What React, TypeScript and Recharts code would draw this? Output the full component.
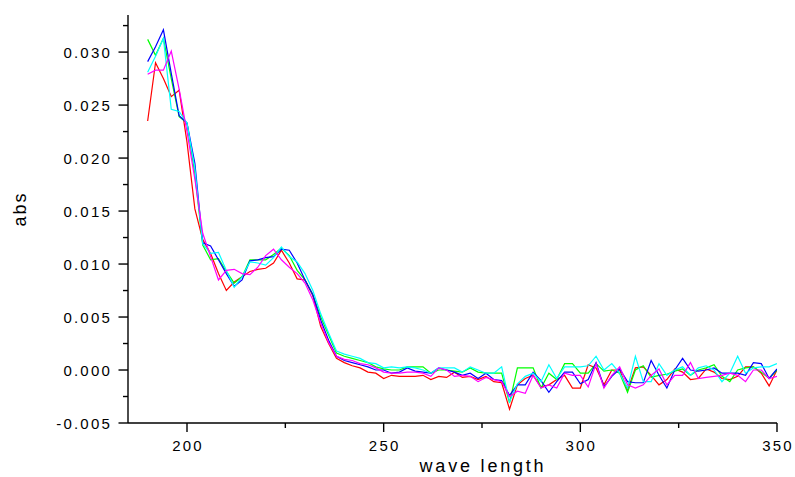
import React from 'react';
import { LineChart, Line, XAxis, YAxis, Label } from 'recharts';

const wavelengths = [
  190, 192, 194, 196, 198, 200, 202, 204, 206, 208,
  210, 212, 214, 216, 218, 220, 222, 224, 226, 228,
  230, 232, 234, 236, 238, 240, 242, 244, 246, 248,
  250, 252, 254, 256, 258, 260, 262, 264, 266, 268,
  270, 272, 274, 276, 278, 280, 282, 284, 286, 288,
  290, 292, 294, 296, 298, 300, 302, 304, 306, 308,
  310, 312, 314, 316, 318, 320, 322, 324, 326, 328,
  330, 332, 334, 336, 338, 340, 342, 344, 346, 348,
  350,
];

const redSeries = [
  0.0235, 0.0290, 0.0275, 0.0258, 0.0264, 0.0215, 0.0152, 0.0123, 0.0110, 0.0091,
  0.0075, 0.0083, 0.0088, 0.0093, 0.0095, 0.0096, 0.0101, 0.0113, 0.0101, 0.0086,
  0.0085, 0.0070, 0.0041, 0.0025, 0.0011, 0.0007, 0.0004, 0.0002, -0.0002, -0.0003,
  -0.0008, -0.0005, -0.0006, -0.0006, -0.0006, -0.0005, -0.0009, -0.0006, -0.0007, -0.0002,
  -0.0007, -0.0006, -0.0009, -0.0006, -0.0011, -0.0012, -0.0037, -0.0014, -0.0008, -0.0005,
  -0.0016, -0.0014, -0.0009, -0.0005, -0.0017, -0.0017, 0.0005, 0.0002, -0.0014, 0.0000,
  0.0000, -0.0019, 0.0002, 0.0003, -0.0005, -0.0014, -0.0009, 0.0001, -0.0002, -0.0009,
  -0.0008, 0.0001, -0.0002, -0.0008, -0.0009, -0.0006, 0.0003, 0.0003, -0.0003, -0.0015,
  0.0000,
];

const greenSeries = [
  0.0312, 0.0297, 0.0313, 0.0275, 0.0239, 0.0233, 0.0185, 0.0118, 0.0104, 0.0105,
  0.0093, 0.0082, 0.0088, 0.0104, 0.0104, 0.0104, 0.0109, 0.0115, 0.0108, 0.0094,
  0.0085, 0.0071, 0.0050, 0.0033, 0.0016, 0.0013, 0.0011, 0.0009, 0.0007, 0.0003,
  0.0001, 0.0000, 0.0000, 0.0003, 0.0003, 0.0003, -0.0003, 0.0000, 0.0000, -0.0001,
  -0.0002, 0.0002, -0.0002, -0.0003, -0.0003, -0.0003, -0.0031, 0.0002, 0.0002, 0.0002,
  -0.0017, -0.0003, -0.0009, 0.0006, 0.0006, -0.0003, -0.0003, 0.0006, -0.0001, 0.0000,
  -0.0003, -0.0021, 0.0000, 0.0004, -0.0007, -0.0005, -0.0004, -0.0001, 0.0001, -0.0005,
  0.0000, 0.0002, 0.0005, -0.0006, -0.0011, 0.0000, 0.0002, 0.0003, -0.0002, -0.0008,
  0.0000,
];

const blueSeries = [
  0.0291, 0.0305, 0.0321, 0.0280, 0.0240, 0.0233, 0.0195, 0.0120, 0.0117, 0.0104,
  0.0091, 0.0079, 0.0085, 0.0103, 0.0104, 0.0106, 0.0107, 0.0114, 0.0113, 0.0101,
  0.0085, 0.0071, 0.0047, 0.0028, 0.0013, 0.0009, 0.0007, 0.0005, 0.0003, 0.0000,
  0.0000, -0.0003, -0.0002, 0.0002, -0.0001, -0.0002, -0.0003, 0.0002, 0.0000, -0.0002,
  -0.0005, -0.0003, -0.0008, -0.0003, -0.0009, -0.0010, -0.0024, -0.0014, -0.0014, -0.0002,
  -0.0010, -0.0021, -0.0011, -0.0002, -0.0002, -0.0013, -0.0009, 0.0007, -0.0016, -0.0006,
  0.0001, -0.0011, -0.0012, -0.0012, 0.0009, -0.0005, -0.0017, 0.0000, 0.0011, 0.0000,
  -0.0001, 0.0000, 0.0002, -0.0003, -0.0003, -0.0003, -0.0005, 0.0007, 0.0006, -0.0008,
  0.0001,
];

const cyanSeries = [
  0.0281, 0.0296, 0.0313, 0.0246, 0.0244, 0.0233, 0.0190, 0.0119, 0.0110, 0.0111,
  0.0094, 0.0078, 0.0088, 0.0102, 0.0101, 0.0099, 0.0106, 0.0116, 0.0107, 0.0102,
  0.0091, 0.0075, 0.0053, 0.0035, 0.0018, 0.0015, 0.0013, 0.0011, 0.0007, 0.0006,
  0.0002, 0.0003, 0.0002, 0.0003, 0.0002, 0.0000, -0.0003, 0.0002, 0.0002, 0.0002,
  -0.0002, 0.0003, 0.0000, -0.0003, -0.0003, 0.0003, -0.0030, -0.0013, -0.0006, -0.0003,
  -0.0011, 0.0005, -0.0008, 0.0003, 0.0003, 0.0003, 0.0004, 0.0013, 0.0000, 0.0006,
  -0.0003, -0.0017, 0.0013, -0.0011, -0.0011, 0.0006, -0.0005, 0.0000, 0.0003, -0.0005,
  0.0002, 0.0004, 0.0000, -0.0011, -0.0003, 0.0013, -0.0003, 0.0002, 0.0003, 0.0003,
  0.0006,
];

const magentaSeries = [
  0.0279, 0.0283, 0.0283, 0.0301, 0.0265, 0.0225, 0.0180, 0.0129, 0.0107, 0.0085,
  0.0094, 0.0095, 0.0091, 0.0090, 0.0097, 0.0108, 0.0114, 0.0104, 0.0097, 0.0091,
  0.0082, 0.0066, 0.0044, 0.0026, 0.0013, 0.0010, 0.0009, 0.0006, 0.0005, 0.0002,
  -0.0002, -0.0003, -0.0003, -0.0002, -0.0002, -0.0003, -0.0006, 0.0002, 0.0000, -0.0006,
  -0.0005, -0.0006, -0.0011, -0.0007, -0.0009, -0.0011, -0.0025, -0.0020, -0.0022, -0.0005,
  -0.0017, -0.0014, -0.0017, -0.0003, -0.0005, -0.0005, -0.0016, 0.0006, -0.0017, -0.0005,
  0.0003, -0.0014, -0.0017, -0.0014, -0.0005, 0.0001, -0.0014, -0.0005, -0.0005, 0.0007,
  -0.0008, -0.0007, -0.0006, -0.0005, -0.0003, -0.0005, -0.0011, 0.0000, 0.0000, -0.0008,
  -0.0006,
];

const xTicks = [200, 225, 250, 275, 300, 325, 350];
const xMajorTicks = [200, 250, 300, 350];
const yTicks = [
  -0.005, -0.0025, 0, 0.0025, 0.005, 0.0075, 0.01, 0.0125, 0.015, 0.0175,
  0.02, 0.0225, 0.025, 0.0275, 0.03, 0.0325,
];
const yMajorTicks = [-0.005, 0, 0.005, 0.01, 0.015, 0.02, 0.025, 0.03];
const yTickLabels = ['-0.005', '0.000', '0.005', '0.010', '0.015', '0.020', '0.025', '0.030'];

const seriesDefs = [
  { key: 'red', color: '#ff0000', values: redSeries },
  { key: 'green', color: '#00ff00', values: greenSeries },
  { key: 'blue', color: '#0000ff', values: blueSeries },
  { key: 'cyan', color: '#00ffff', values: cyanSeries },
  { key: 'magenta', color: '#ff00ff', values: magentaSeries },
];

const data = wavelengths.map((nm, i) => {
  const row: Record<string, number> = { nm };
  seriesDefs.forEach((s) => {
    row[s.key] = s.values[i];
  });
  return row;
});

const FONT = '"Liberation Sans", Arial, sans-serif';

const XTick = (props: any) => {
  const { x, y, payload } = props;
  const v = payload.value;
  const major = xMajorTicks.some((m) => Math.abs(m - v) < 1e-6);
  return (
    <g>
      <line x1={x} y1={y} x2={x} y2={y + (major ? 9 : 5)} stroke="#000" strokeWidth={1.4} />
      {major && (
        <text
          x={x + 1}
          y={y + 28}
          textAnchor="middle"
          fontFamily={FONT}
          fontSize={15}
          letterSpacing={2.2}
          fill="#000"
        >
          {String(v)}
        </text>
      )}
    </g>
  );
};

const YTick = (props: any) => {
  const { x, y, payload } = props;
  const v = payload.value;
  const idx = yMajorTicks.findIndex((m) => Math.abs(m - v) < 1e-9);
  const major = idx >= 0;
  return (
    <g>
      <line x1={x} y1={y} x2={x - (major ? 9.5 : 5)} y2={y} stroke="#000" strokeWidth={1.4} />
      {major && (
        <text
          x={x - 16}
          y={y + 5.5}
          textAnchor="end"
          fontFamily={FONT}
          fontSize={15}
          letterSpacing={2.2}
          fill="#000"
        >
          {yTickLabels[idx]}
        </text>
      )}
    </g>
  );
};

export default function App() {
  return (
    <div style={{ position: 'absolute', left: 0, top: 0, width: 795, height: 477, background: '#fff' }}>
      <LineChart
        width={795}
        height={477}
        data={data}
        margin={{ top: 15, right: 18, bottom: 0, left: 68 }}
      >
        <XAxis
          dataKey="nm"
          type="number"
          domain={[185, 350]}
          ticks={xTicks}
          interval={0}
          allowDataOverflow
          height={54}
          tickSize={0}
          tickMargin={0}
          tickLine={false}
          axisLine={{ stroke: '#000', strokeWidth: 1.4 }}
          tick={<XTick />}
        >
          <Label
            content={() => (
              <text
                x={483}
                y={472}
                textAnchor="middle"
                fontFamily={FONT}
                fontSize={18}
                letterSpacing={2.8}
                fill="#000"
              >
                wave length
              </text>
            )}
          />
        </XAxis>
        <YAxis
          type="number"
          domain={[-0.005, 0.0335]}
          ticks={yTicks}
          interval={0}
          allowDataOverflow
          width={60}
          tickSize={0}
          tickMargin={0}
          tickLine={false}
          axisLine={{ stroke: '#000', strokeWidth: 1.4 }}
          tick={<YTick />}
        >
          <Label
            content={() => (
              <text
                x={26}
                y={209}
                transform="rotate(-90 26 209)"
                textAnchor="middle"
                fontFamily={FONT}
                fontSize={18}
                letterSpacing={2}
                fill="#000"
              >
                abs
              </text>
            )}
          />
        </YAxis>
        {seriesDefs.map((s) => (
          <Line
            key={s.key}
            type="linear"
            dataKey={s.key}
            stroke={s.color}
            strokeWidth={1.2}
            dot={false}
            activeDot={false}
            isAnimationActive={false}
          />
        ))}
      </LineChart>
    </div>
  );
}
